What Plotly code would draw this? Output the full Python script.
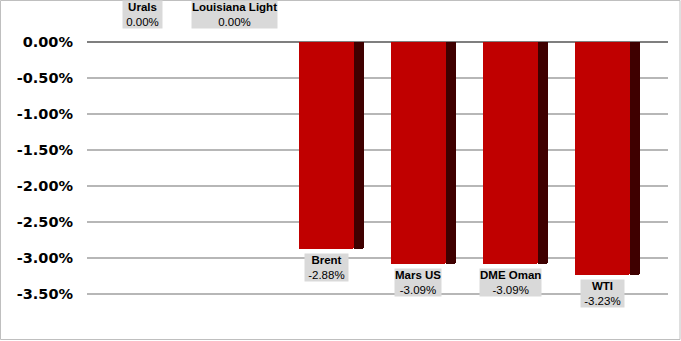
import plotly.graph_objects as go

categories = ["Urals", "Louisiana Light", "Brent", "Mars US", "DME Oman", "WTI"]
values = [0.00, 0.00, -2.88, -3.09, -3.09, -3.23]
tick_vals = [0, -0.5, -1.0, -1.5, -2.0, -2.5, -3.0, -3.5]
tick_text = ["0.00%", "-0.50%", "-1.00%", "-1.50%", "-2.00%", "-2.50%", "-3.00%", "-3.50%"]

W, H = 681, 341
ML, MR, MT, MB = 87, 13, 42, 11
x_range = [-0.603, 5.712]
y_range = [-4.0, 0.0]

FRONT_W = 0.598
SIDE_W = 0.109

xs = list(range(len(categories)))

fig = go.Figure()
fig.add_trace(go.Bar(
    x=xs, y=values, width=FRONT_W, offset=-FRONT_W / 2,
    marker=dict(color="#C00000", line=dict(width=0), cornerradius=2),
    hoverinfo="skip", showlegend=False,
))
fig.add_trace(go.Bar(
    x=xs, y=values, width=SIDE_W, offset=FRONT_W / 2,
    marker=dict(color="#3F0000", line=dict(width=0), cornerradius=2),
    hoverinfo="skip", showlegend=False,
))

LBL_FONT = dict(family="Liberation Sans, Arial", size=11.5, color="#000")
for i, (c, v) in enumerate(zip(categories, values)):
    txt = f"<b>{c}</b><br>&nbsp;{v:.2f}%&nbsp;"
    if v >= 0:
        fig.add_annotation(x=i, y=0, xref="x", yref="y", text=txt, showarrow=False,
                           yanchor="bottom", yshift=13, bgcolor="#D9D9D9", borderpad=0,
                           font=LBL_FONT)
    else:
        fig.add_annotation(x=i, y=v, xref="x", yref="y", text=txt, showarrow=False,
                           yanchor="top", yshift=-4, bgcolor="#D9D9D9", borderpad=0,
                           font=LBL_FONT)

pw = W - ML - MR
ph = H - MT - MB
def px_x(p):
    return (p - ML) / pw
def px_y(p):
    return (H - MB - p) / ph

fig.add_shape(type="rect", xref="paper", yref="paper",
              x0=px_x(0.5), x1=px_x(680), y0=px_y(339.5), y1=px_y(0.5),
              line=dict(color="#BFBFBF", width=1), fillcolor="rgba(0,0,0,0)", layer="below")

fig.update_layout(
    width=W, height=H,
    margin=dict(l=ML, r=MR, t=MT, b=MB, pad=0),
    paper_bgcolor="white", plot_bgcolor="white",
    barmode="overlay", bargap=0,
    xaxis=dict(range=x_range, showgrid=False, zeroline=False, showline=False,
               showticklabels=False, ticks="", fixedrange=True),
    yaxis=dict(range=y_range, tickvals=tick_vals, ticktext=tick_text,
               showgrid=True, gridcolor="#B7B7B7", gridwidth=1.5,
               zeroline=True, zerolinecolor="#7F7F7F", zerolinewidth=2,
               showline=False, ticks="", ticklabelstandoff=13,
               tickfont=dict(family="DejaVu Sans", size=14.5, color="#000", weight="bold")),
    showlegend=False,
)

fig.write_html("out.html")
